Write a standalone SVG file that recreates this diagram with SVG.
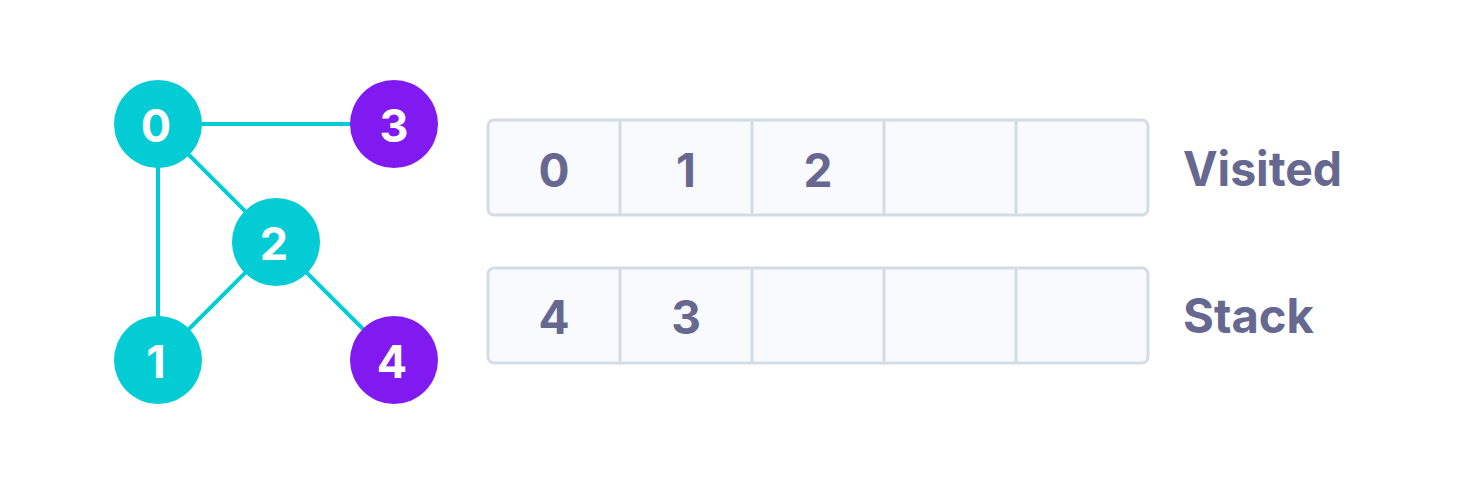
<svg xmlns="http://www.w3.org/2000/svg" width="1460" height="484" viewBox="0 0 1460 484">
<style>
.edge{stroke:#03CCD5;stroke-width:4;fill:none}
.cyan{fill:#03CCD5}
.purple{fill:#8119F1}
.nl{fill:#FFFFFF;font-family:Inter,"Liberation Sans",sans-serif;font-weight:700;font-size:45px;text-anchor:middle}
.box{fill:#F8FAFE;stroke:#D3DCE6;stroke-width:3}
.div{stroke:#D3DCE6;stroke-width:3}
.cl{fill:#666890;font-family:Inter,"Liberation Sans",sans-serif;font-weight:700;font-size:46px;text-anchor:middle}
.lab{fill:#666890;font-family:Inter,"Liberation Sans",sans-serif;font-weight:700;font-size:48px}
</style>
<rect width="1460" height="484" fill="#FFFFFF"/>
<g id="connectors">
<line class="edge" x1="158" y1="124" x2="394" y2="124"/>
<line class="edge" x1="158" y1="124" x2="158" y2="360"/>
<line class="edge" x1="158" y1="124" x2="276" y2="242"/>
<line class="edge" x1="276" y1="242" x2="158" y2="360"/>
<line class="edge" x1="276" y1="242" x2="394" y2="360"/>
</g>
<g id="node0"><circle class="cyan" cx="158" cy="124" r="44"/><text class="nl" x="156" y="142">0</text></g>
<g id="node3"><circle class="purple" cx="394" cy="124" r="44"/><text class="nl" x="394" y="142">3</text></g>
<g id="node2"><circle class="cyan" cx="276" cy="242" r="44"/><text class="nl" x="274" y="260">2</text></g>
<g id="node1"><circle class="cyan" cx="158" cy="360" r="44"/><text class="nl" x="156" y="378">1</text></g>
<g id="node4"><circle class="purple" cx="394" cy="360" r="44"/><text class="nl" x="392" y="378">4</text></g>
<g id="visited">
<rect class="box" x="488" y="120" width="660" height="95" rx="6"/>
<line class="div" x1="620" y1="120" x2="620" y2="215"/>
<line class="div" x1="752" y1="120" x2="752" y2="215"/>
<line class="div" x1="884" y1="120" x2="884" y2="215"/>
<line class="div" x1="1016" y1="120" x2="1016" y2="215"/>
<text class="cl" x="554" y="187">0</text>
<text class="cl" x="686" y="187">1</text>
<text class="cl" x="818" y="187">2</text>
<text class="lab" x="1183" y="186" textLength="159" lengthAdjust="spacingAndGlyphs">Visited</text>
</g>
<g id="stack">
<rect class="box" x="488" y="268" width="660" height="95" rx="6"/>
<line class="div" x1="620" y1="268" x2="620" y2="363"/>
<line class="div" x1="752" y1="268" x2="752" y2="363"/>
<line class="div" x1="884" y1="268" x2="884" y2="363"/>
<line class="div" x1="1016" y1="268" x2="1016" y2="363"/>
<text class="cl" x="554" y="334">4</text>
<text class="cl" x="686" y="334">3</text>
<text class="lab" x="1183" y="333" textLength="131" lengthAdjust="spacingAndGlyphs">Stack</text>
</g>
</svg>
